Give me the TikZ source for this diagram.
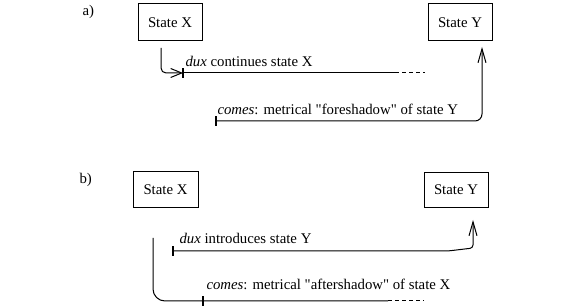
\documentclass[tikz,border=0pt]{standalone}
\usepackage{fontspec}
\setmainfont{Liberation Serif}[Ligatures=TeXOff]
\usetikzlibrary{arrows.meta}
\begin{document}
\begin{tikzpicture}[x=1pt,y=-1pt,line width=1pt,
  txt/.style={font=\fontsize{14.8}{17}\selectfont},
  statebox/.style={draw,txt,minimum width=64pt,minimum height=37pt,inner sep=0pt},
  lbl/.style={txt,anchor=base west,inner sep=0pt},
  tickmark/.style={line width=2.4pt},
  barbh/.style={-{Straight Barb[length=11pt,width=9pt]}},
  barbv/.style={-{Straight Barb[length=14pt,width=8pt]}},
  dashline/.style={dash pattern=on 4pt off 3pt}]
\useasboundingbox (0,0) rectangle (582,307);

% ---------- a) ----------
\node[lbl] (la) at (82,16) {a)};
\node[statebox] (ax) at (170,22.5) {State X};
\node[statebox] (ay) at (460,22.5) {State Y};

\coordinate (ax1) at (161,48);
\coordinate (ad1) at (183,73);
\coordinate (ad2) at (395,73);
\coordinate (ad3) at (425,73);
\coordinate (ac1) at (216,121);
\coordinate (actip) at (482,47);

\node[lbl] (adtxt) at (185,67) {\textit{dux} continues state X};
\node[lbl] (actxt) at (217,115) {\textit{comes}: metrical "foreshadow" of state Y};

\draw[barbh,rounded corners=5pt] (ax1) |- (ad1);
\draw (ad1) -- (ad2);
\draw[dashline] (ad2) -- (ad3);
\draw[tickmark] ([yshift=-5pt]ad1) -- ([yshift=5pt]ad1);
\draw[barbv,rounded corners=7pt] (ac1) -| (actip);
\draw[tickmark] ([yshift=-5pt]ac1) -- ([yshift=5pt]ac1);

% ---------- b) ----------
\node[lbl] (lb) at (79,184) {b)};
\node[statebox,minimum width=65pt,minimum height=36pt] (bx) at (165.5,190) {State X};
\node[statebox,minimum height=35pt] (by) at (456,190) {State Y};

\coordinate (bx1) at (153,238);
\coordinate (bc1) at (203,301);
\coordinate (bc2) at (388,301);
\coordinate (bc3) at (424,301);
\coordinate (bd1) at (173,251);
\coordinate (bd2) at (448,251);
\coordinate (bd3) at (473,248);
\coordinate (bdtip) at (473,220);

\node[lbl] (bdtxt) at (179,244) {\textit{dux} introduces state Y};
\node[lbl] (bctxt) at (206,290) {\textit{comes}: metrical "aftershadow" of state X};

\draw[rounded corners=12pt] (bx1) |- (bc2);
\draw[dashline] (bc2) -- (bc3);
\draw[tickmark] ([yshift=-5pt]bc1) -- ([yshift=5pt]bc1);
\draw[barbv,rounded corners=3pt] (bd1) -- (bd2) -- (bd3) -- (bdtip);
\draw[tickmark] ([yshift=-5pt]bd1) -- ([yshift=5pt]bd1);
\end{tikzpicture}
\end{document}
